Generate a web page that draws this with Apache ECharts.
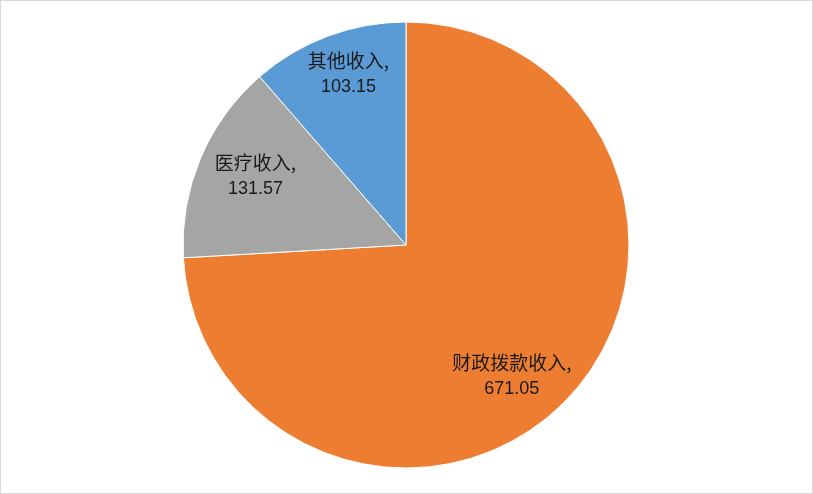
<!DOCTYPE html>
<html>
<head>
<meta charset="utf-8">
<script src="https://cdn.jsdelivr.net/npm/echarts@6/dist/echarts.min.js"></script>
<style>
html,body{margin:0;padding:0;background:#fff;}
#c{width:813px;height:494px;box-sizing:border-box;border:1px solid #d9d9d9;}
</style>
</head>
<body>
<div id="c"></div>
<script>
var categories = ['财政拨款收入', '医疗收入', '其他收入'];
var values = [671.05, 131.57, 103.15];
var colors = ['#ED7D31', '#A5A5A5', '#5B9BD5'];

// label nudges (style only)
var labelNudge = [[-24, 8], [14, 0], [5, -4]];

var data = categories.map(function (n, i) { return { name: n, value: values[i] }; });
var labelData = categories.map(function (n, i) {
  return { name: n, value: values[i], label: { offset: labelNudge[i] } };
});
var chart = echarts.init(document.getElementById('c'));
var center = [405, 244];
chart.setOption({
  animation: false,
  color: colors,
  series: [
    {
      type: 'pie',
      center: center,
      radius: [0, 223],
      startAngle: 90,
      clockwise: true,
      label: { show: false },
      labelLine: { show: false },
      itemStyle: { borderColor: '#fff', borderWidth: 1 },
      silent: true,
      data: data
    },
    {
      type: 'pie',
      center: center,
      radius: [128, 223],
      startAngle: 90,
      clockwise: true,
      silent: true,
      itemStyle: { color: 'rgba(0,0,0,0)' },
      labelLine: { show: false },
      label: {
        show: true,
        position: 'inside',
        align: 'center',
        formatter: function (p) { return '{a|' + p.name + ',}\n{n|' + p.value.toFixed(2) + '}'; },
        rich: {
          a: { fontFamily: 'Noto Sans CJK SC', fontSize: 19, color: '#1a1a1a', lineHeight: 26, align: 'center' },
          n: { fontFamily: 'Liberation Sans', fontSize: 18, color: '#1a1a1a', lineHeight: 26, align: 'center' }
        }
      },
      data: labelData
    }
  ]
});
</script>
</body>
</html>
